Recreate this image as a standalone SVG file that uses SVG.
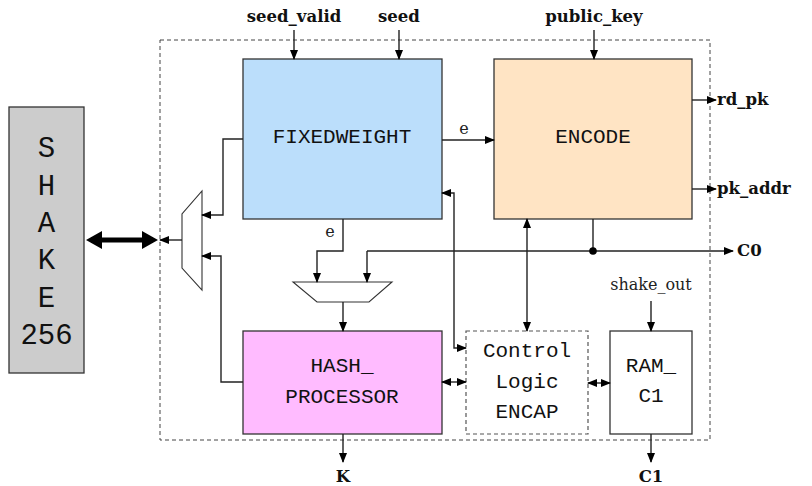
<svg xmlns="http://www.w3.org/2000/svg" width="812" height="486" viewBox="0 0 812 486">
<defs>
<marker id="ah" markerUnits="userSpaceOnUse" markerWidth="10" markerHeight="8" refX="9" refY="4" orient="auto-start-reverse">
<path d="M0,0 L10,4 L0,8 z" fill="#000"/>
</marker>
<style>
.box{stroke:#333;stroke-width:1.3}
.ln{fill:none;stroke:#222;stroke-width:1.4}
.mono{font-family:"Liberation Mono","DejaVu Sans Mono",monospace;font-size:21px;fill:#111;text-anchor:middle}
.big{font-family:"Liberation Mono","DejaVu Sans Mono",monospace;font-size:29px;fill:#111;text-anchor:middle}
.lbl{font-family:"DejaVu Serif","Liberation Serif",serif;font-weight:bold;font-size:16.5px;fill:#111}
.sig{font-family:"DejaVu Serif","Liberation Serif",serif;font-size:16px;fill:#222}
</style>
</defs>
<rect x="0" y="0" width="812" height="486" fill="#fff"/>
<rect x="160" y="40" width="550" height="400" fill="none" stroke="#444" stroke-width="1" stroke-dasharray="4,3"/>

<g id="shake">
<rect x="9" y="107" width="75" height="266" fill="#cccccc" class="box" stroke-width="1.6"/>
<text class="big" x="46.5" y="157">S</text>
<text class="big" x="46.5" y="194.5">H</text>
<text class="big" x="46.5" y="232">A</text>
<text class="big" x="46.5" y="269">K</text>
<text class="big" x="46.5" y="306.5">E</text>
<text class="big" x="46.5" y="344">256</text>
</g>
<g id="fixedweight">
<rect x="243" y="59" width="199" height="160" fill="#bbdefb" class="box"/>
<text class="mono" x="342" y="143">FIXEDWEIGHT</text>
</g>
<g id="encode">
<rect x="494" y="59" width="198" height="160" fill="#ffe4c4" class="box"/>
<text class="mono" x="593" y="143">ENCODE</text>
</g>
<g id="hash">
<rect x="243" y="331" width="199" height="103" fill="#ffbbff" class="box"/>
<text class="mono" x="342" y="372">HASH_</text>
<text class="mono" x="342" y="403">PROCESSOR</text>
</g>
<g id="control">
<rect x="466" y="331" width="122" height="103" fill="#fff" stroke="#555" stroke-width="1.2" stroke-dasharray="4,3"/>
<text class="mono" x="527" y="357">Control</text>
<text class="mono" x="527" y="388">Logic</text>
<text class="mono" x="527" y="418">ENCAP</text>
</g>
<g id="ram">
<rect x="610" y="331" width="82" height="103" fill="#fff" class="box"/>
<text class="mono" x="651" y="372">RAM_</text>
<text class="mono" x="651" y="402">C1</text>
</g>
<g id="mux_bottom">
<polygon points="293,282 392,282 369,302 317,302" fill="#fff" stroke="#333" stroke-width="1.1"/>
</g>
<g id="mux_left">
<polygon points="202,191 202,290 182,268 182,214" fill="#fff" stroke="#333" stroke-width="1.1"/>
</g>

<g id="connectors">
<path class="ln" d="M294 30 V59" marker-end="url(#ah)"/>
<path class="ln" d="M399 30 V59" marker-end="url(#ah)"/>
<path class="ln" d="M594 30 V59" marker-end="url(#ah)"/>
<path class="ln" d="M692 100 H716" marker-end="url(#ah)"/>
<path class="ln" d="M692 189 H716" marker-end="url(#ah)"/>
<path class="ln" d="M442 140 H494" marker-end="url(#ah)"/>
<path class="ln" d="M593 219 V251"/>
<path class="ln" d="M367 251 H733" marker-end="url(#ah)"/>
<path class="ln" d="M367 251 V282" marker-end="url(#ah)"/>
<circle cx="593" cy="251" r="3.8" fill="#000"/>
<path class="ln" d="M343 219 V251 H317 V282" marker-end="url(#ah)"/>
<path class="ln" d="M343 302 V331" marker-end="url(#ah)"/>
<path class="ln" d="M343 434 V462" marker-end="url(#ah)"/>
<path class="ln" d="M651 434 V462" marker-end="url(#ah)"/>
<path class="ln" d="M651 301 V331" marker-end="url(#ah)"/>
<path class="ln" d="M527 219 V331" marker-start="url(#ah)" marker-end="url(#ah)"/>
<path class="ln" d="M442 382 H466" marker-start="url(#ah)" marker-end="url(#ah)"/>
<path class="ln" d="M588 383 H610" marker-start="url(#ah)" marker-end="url(#ah)"/>
<path class="ln" d="M466 348 H454 V193 H442" marker-start="url(#ah)" marker-end="url(#ah)"/>
<path class="ln" d="M243 139 H223 V215 H202" marker-end="url(#ah)"/>
<path class="ln" d="M243 382 H221 V256 H202" marker-end="url(#ah)"/>
<path class="ln" d="M182 240 H160" marker-end="url(#ah)"/>
<polygon points="86,240 102,231 102,237.5 142,237.5 142,231 158,240 142,249 142,242.5 102,242.5 102,249" fill="#000"/>
</g>

<g id="labels">
<text class="lbl" x="294" y="22" text-anchor="middle">seed_valid</text>
<text class="lbl" x="399" y="22" text-anchor="middle">seed</text>
<text class="lbl" x="594" y="22" text-anchor="middle">public_key</text>
<text class="lbl" x="717" y="105">rd_pk</text>
<text class="lbl" x="717" y="194">pk_addr</text>
<text class="lbl" x="737" y="256">C0</text>
<text class="lbl" x="343" y="482" text-anchor="middle">K</text>
<text class="lbl" x="651" y="482" text-anchor="middle">C1</text>
<text class="sig" x="651" y="290" text-anchor="middle">shake_out</text>
<text class="sig" x="330" y="237" text-anchor="middle">e</text>
<text class="sig" x="464" y="134" text-anchor="middle">e</text>
</g>
</svg>
